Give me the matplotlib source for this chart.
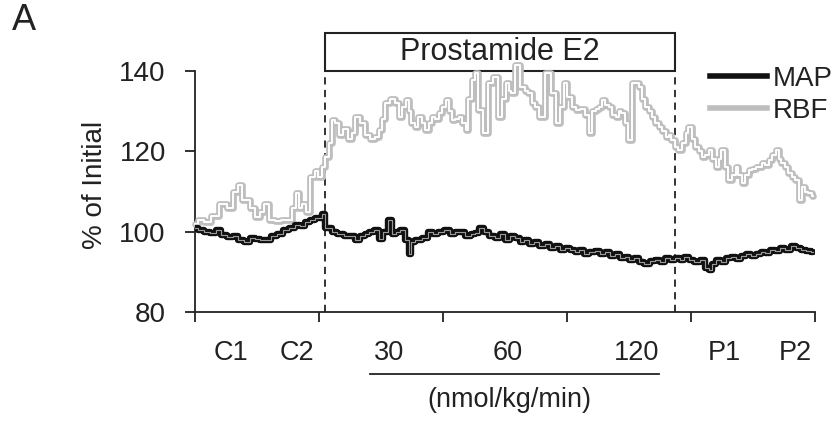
import matplotlib
matplotlib.use("Agg")
import matplotlib.pyplot as plt
from matplotlib.lines import Line2D
from matplotlib.patches import Rectangle

plt.rcParams['font.family'] = ['Liberation Sans', 'DejaVu Sans']

# time in minutes, values in % of initial
rbf_t = [0.0, 1.2, 2.9, 4.8, 6.8, 8.5, 9.9, 10.9, 11.9, 12.6, 13.8, 15.0, 16.2, 17.4, 18.6,
         20.1, 21.5, 23.0, 24.0, 24.7, 25.4, 26.4, 27.3, 28.3, 29.5, 30.2, 31.2, 31.9, 32.7,
         33.4, 34.4, 35.3, 36.3, 37.5, 38.2, 39.2, 40.6, 41.6, 43.1, 44.0, 44.8, 45.7, 46.4,
         47.7, 48.9, 49.6, 50.6, 51.3, 52.0, 52.7, 53.7, 54.4, 55.4, 56.1, 56.9, 57.6, 58.5,
         59.3, 60.2, 61.0, 61.7, 62.4, 63.4, 64.1, 65.1, 65.8, 66.5, 67.3, 68.2, 68.9, 70.2,
         71.4, 72.6, 73.8, 74.8, 75.5, 76.2, 76.9, 78.1, 79.3, 80.3, 81.0, 82.0, 82.7, 83.9,
         85.4, 86.6, 87.8, 88.8, 89.5, 90.7, 91.7, 92.4, 93.9, 94.8, 95.6, 96.5, 97.3, 98.0,
         98.7, 99.7, 100.4, 101.4, 102.1, 102.8, 103.5, 104.5, 105.2, 106.0, 106.9, 107.7,
         108.6, 109.3, 110.1, 110.8, 111.8, 112.5, 113.5, 114.2, 114.9, 115.6, 116.6, 117.3,
         118.3, 119.0, 119.7, 120.5, 121.4, 122.2, 122.9, 123.9, 124.6, 125.6, 126.3, 127.0,
         127.7, 128.7, 129.4, 130.4, 131.1, 131.8, 132.6, 133.5, 134.3, 135.2, 136.0, 136.7,
         137.4, 138.4, 139.1, 140.1, 140.8, 141.5, 142.2, 143.2, 143.9, 144.9, 145.6, 146.4,
         147.1, 147.8, 148.8, 149.5]
rbf = [102, 103, 102.4, 104, 107, 106, 110, 111.6, 108, 108, 106, 103.7, 105, 107, 103,
       102.6, 103, 102.8, 106, 109.6, 106, 107, 105, 113.5, 115, 113.6, 116, 118.6, 122,
       127.8, 127, 124, 125.5, 123, 124.6, 128.6, 127, 124, 123, 123.6, 125.3, 128, 132,
       133, 132, 128.6, 131, 132.8, 130, 127, 126, 128.6, 127, 125.3, 127, 128.6, 128,
       129.5, 131, 132.8, 130, 127.8, 128, 128.6, 127, 125.3, 133, 137.8, 139.5, 130.3, 124.6,
       137, 138.5, 128.6, 133, 137, 135, 134.5, 141.5, 136, 135, 134.5, 132, 131, 128.6,
       139.5, 134.5, 127, 131, 137, 133.6, 131, 130.3, 130.5, 129, 124.6, 130, 130.5, 131,
       132.8, 131.5, 131, 129, 128.6, 130, 129.5, 127, 122.9, 137, 137, 136,
       133, 131, 130, 128.6, 127, 126, 125, 123.6, 124, 122.9, 121, 120.3,
       122, 124.6, 126, 123, 121, 120, 118.6, 119, 120.3, 118, 116.1, 118,
       120.3, 116, 112.9, 114, 116.1, 114, 112, 114, 115.4, 115.5, 116.1, 116,
       117, 116.5, 117.8, 119, 120.3, 118, 117, 116, 114.6, 113.5, 112.9, 107.9,
       111.1, 110, 109.6, 109]

map_t = [0.0, 1.2, 2.9, 4.4, 5.6, 6.8, 8.5, 9.7, 10.9, 12.6, 13.8, 15.0, 16.4, 17.7, 19.1,
         20.6, 22.0, 23.5, 24.7, 25.9, 27.1, 28.5, 29.5, 30.2, 31.0, 31.9, 32.7, 33.4, 35.1,
         36.8, 38.0, 39.2, 40.4, 41.6, 42.8, 44.0, 44.8, 46.0, 47.2, 47.9, 49.1, 50.3, 51.3,
         52.0, 52.7, 53.7, 54.4, 55.6, 56.9, 58.1, 59.3, 61.0, 62.2, 63.4, 64.8, 66.0, 67.3,
         68.2, 69.4, 70.6, 71.8, 73.1, 74.3, 75.5, 76.7, 77.9, 79.1, 80.3, 81.5, 82.7, 83.9,
         85.2, 86.4, 87.6, 88.8, 90.0, 91.2, 92.4, 93.6, 94.8, 96.0, 97.3, 98.5, 99.7, 100.9,
         102.1, 103.3, 104.5, 105.7, 106.9, 108.1, 109.3, 110.6, 111.8, 113.0, 114.2, 115.4,
         116.6, 117.8, 119.0, 120.2, 121.4, 122.7, 123.9, 124.6, 125.6, 126.6, 127.8, 128.9,
         130.2, 131.4, 132.6, 133.8, 135.0, 136.2, 137.4, 138.6, 139.8, 141.0, 142.2, 143.4,
         144.7, 145.9, 147.1, 148.3, 149.5]
map_ = [101, 100.5, 100, 99.7, 100.5, 99.2, 98.7, 99, 98, 97.4, 98.5, 98.3, 97.9, 98, 99,
        99.5, 100.5, 101, 101.7, 101.5, 102.5, 102.9, 103.3, 103.5, 104.5, 100.8, 101, 100, 99.5,
        98.8, 99, 98, 98.8, 99.5, 99.8, 100.5, 98.3, 100, 103, 99.5, 100, 100.5, 98,
        94.5, 97.4, 98, 97.9, 98.5, 99.9, 99.5, 100, 100.4, 99.5, 99.8, 99.9, 99, 99.5,
        99.7, 101, 100, 99, 98.5, 99.5, 98, 99, 98.5, 97.5, 98, 97, 97.5, 96.5,
        97, 96, 96.5, 95.5, 96, 95.5, 95, 95.5, 94.5, 95, 95.2, 94.5, 95, 94,
        94.5, 93.5, 93.8, 93, 93.5, 92.5, 92, 92.8, 93, 92.5, 93.5, 93,
        93.5, 93, 93.8, 93, 92.5, 93, 91, 90.5, 92, 93, 92.5, 93.5,
        93.8, 93.2, 94, 94.5, 94, 94.5, 95, 94.8, 95.5, 95.2, 96, 95.5,
        96.5, 96, 95.5, 95.2, 95]

major_ticks = [0, 30, 60, 90, 120, 150]
period_labels = ['C1', 'C2', '30', '60', '120', 'P1', 'P2']
period_pos = [8.7, 24.7, 46.9, 75.7, 106.7, 128.0, 145.2]
infusion = [31.5, 116]

ink = '#222222'
gray = '#bebebe'

fig = plt.figure(figsize=(8.36, 4.23), dpi=100)
ax = fig.add_axes([0.2333, 0.2624, 0.7417, 0.5697])

# traces: thick coloured line with a thin light core
ax.plot(rbf_t, rbf, color=gray, lw=4.8, drawstyle='steps-mid', solid_capstyle='round',
        zorder=3, clip_on=False)
ax.plot(rbf_t, rbf, color='white', lw=1.4, drawstyle='steps-mid', zorder=3, clip_on=False)
ax.plot(map_t, map_, color='#111111', lw=4.6, drawstyle='steps-mid', solid_capstyle='round',
        zorder=4)
ax.plot(map_t, map_, color='#9a9a9a', lw=0.8, drawstyle='steps-mid', zorder=4)

ax.vlines(infusion, 80, 140, colors=ink, linestyles=(0, (4, 3)), lw=1.3, zorder=2)
ax.add_patch(Rectangle((infusion[0], 140), infusion[1] - infusion[0], 9.4, fill=False,
                       ec=ink, lw=1.5, clip_on=False))
ax.text(sum(infusion) / 2, 144.7, 'Prostamide E2', ha='center', va='center', fontsize=22,
        color=ink)

ax.set_xlim(0, 150)
ax.set_ylim(80, 140)
ax.set_yticks([80, 100, 120, 140])
ax.set_xticks(major_ticks)
ax.set_xticklabels([])
ax.set_xticks(period_pos, minor=True)
ax.set_xticklabels(period_labels, minor=True)
ax.tick_params(axis='x', which='minor', length=0, pad=20, labelsize=19.5, labelcolor=ink)
ax.tick_params(axis='x', which='major', length=7, width=1.3, color=ink)
ax.tick_params(axis='y', length=7, width=1.3, color=ink, pad=14, labelsize=20, labelcolor=ink)
for s in ['top', 'right']:
    ax.spines[s].set_visible(False)
for s in ['left', 'bottom']:
    ax.spines[s].set_color(ink)
    ax.spines[s].set_linewidth(1.3)

ax.set_ylabel('% of Initial', fontsize=20, color=ink, va='center')
ax.yaxis.set_label_coords(-0.161, 0.527)

# dose bar under the infusion labels
tr = ax.get_xaxis_transform()
ax.plot([42.3, 112.3], [-0.257, -0.257], color=ink, lw=1.3, transform=tr, clip_on=False)
ax.text(76, -0.365, '(nmol/kg/min)', transform=tr, ha='center', va='center', fontsize=19.5,
        color=ink)

handles = [Line2D([], [], color='#111111', lw=4), Line2D([], [], color=gray, lw=4)]
ax.legend(handles, ['MAP', 'RBF'], loc='upper left', bbox_to_anchor=(0.831, 1.02),
          frameon=False, fontsize=20, handlelength=2.05, handletextpad=0.2,
          labelspacing=0.2, borderpad=0, borderaxespad=0, labelcolor=ink)

fig.text(0.014, 0.993, 'A', fontsize=26, va='top', color=ink)

fig.savefig('out.png', dpi=100)
